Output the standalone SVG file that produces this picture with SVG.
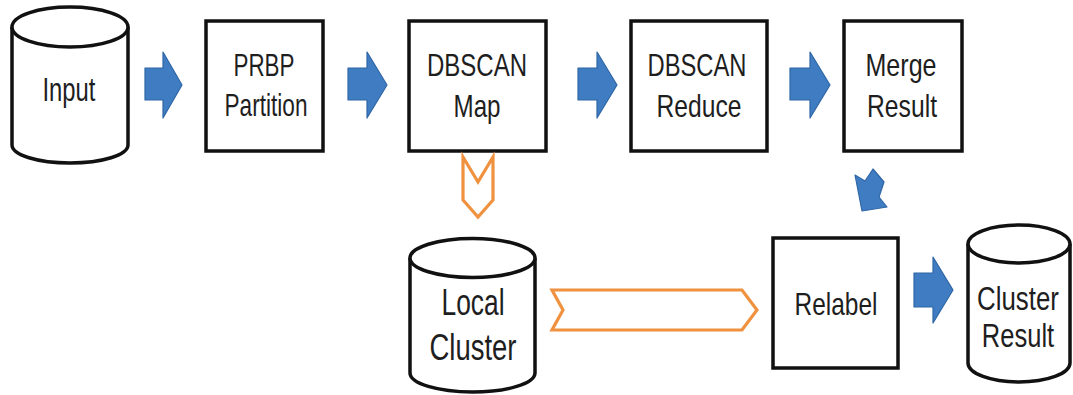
<svg xmlns="http://www.w3.org/2000/svg" width="1073" height="395" viewBox="0 0 1073 395">
<style>
.box{fill:#fff;stroke:#111;stroke-width:3.5}
.cyl{fill:#fff;stroke:#111;stroke-width:3.5}
.t{font-family:"Liberation Sans",Arial,sans-serif;fill:#1e1e1e;text-anchor:middle}
.blue{fill:#3f7cc2;stroke:#2f66a6;stroke-width:1.2;stroke-linejoin:round}
.orange{fill:#fff;stroke:#f0913f;stroke-width:3.2;stroke-linejoin:miter}
</style>
<rect width="1073" height="395" fill="#fff"/>
<g id="input">
<path class="cyl" d="M12,27 V145 A58,18 0 0 0 128,145 V27"/>
<ellipse class="cyl" cx="70" cy="27" rx="58" ry="20"/>
<text class="t" x="69" y="101" font-size="33" textLength="53" lengthAdjust="spacingAndGlyphs">Input</text>
</g>
<g id="prbp">
<rect class="box" x="206" y="21" width="117" height="130"/>
<text class="t" x="264" y="76" font-size="32" textLength="61" lengthAdjust="spacingAndGlyphs">PRBP</text>
<text class="t" x="266" y="116" font-size="32" textLength="83" lengthAdjust="spacingAndGlyphs">Partition</text>
</g>
<g id="dbscan-map">
<rect class="box" x="409" y="21" width="137" height="130"/>
<text class="t" x="477" y="76" font-size="32" textLength="100" lengthAdjust="spacingAndGlyphs">DBSCAN</text>
<text class="t" x="477" y="117" font-size="32" textLength="47" lengthAdjust="spacingAndGlyphs">Map</text>
</g>
<g id="dbscan-reduce">
<rect class="box" x="631" y="21" width="136" height="130"/>
<text class="t" x="697" y="76" font-size="32" textLength="99" lengthAdjust="spacingAndGlyphs">DBSCAN</text>
<text class="t" x="699" y="117" font-size="32" textLength="85" lengthAdjust="spacingAndGlyphs">Reduce</text>
</g>
<g id="merge-result">
<rect class="box" x="844" y="21" width="118" height="130"/>
<text class="t" x="901" y="76" font-size="32" textLength="71" lengthAdjust="spacingAndGlyphs">Merge</text>
<text class="t" x="902" y="117" font-size="32" textLength="70" lengthAdjust="spacingAndGlyphs">Result</text>
</g>
<g id="local-cluster">
<path class="cyl" d="M410,258 V373 A62.5,19 0 0 0 535,373 V258"/>
<ellipse class="cyl" cx="472.5" cy="258" rx="62.5" ry="19.5"/>
<text class="t" x="473" y="315" font-size="36" textLength="63" lengthAdjust="spacingAndGlyphs">Local</text>
<text class="t" x="473" y="360" font-size="36" textLength="87" lengthAdjust="spacingAndGlyphs">Cluster</text>
</g>
<g id="relabel">
<rect class="box" x="773" y="238" width="125" height="130"/>
<text class="t" x="836" y="315" font-size="32" textLength="83" lengthAdjust="spacingAndGlyphs">Relabel</text>
</g>
<g id="cluster-result">
<path class="cyl" d="M968,244 V363 A51,19 0 0 0 1070,363 V244"/>
<ellipse class="cyl" cx="1019" cy="244" rx="51" ry="19"/>
<text class="t" transform="translate(1018,310) scale(0.76,1)" font-size="34">Cluster</text>
<text class="t" transform="translate(1018,347) scale(0.75,1)" font-size="34">Result</text>
</g>
<g id="connectors">
<polygon class="blue" points="145,68 163,68 163,52 182,85 163,118 163,100 145,100"/>
<polygon class="blue" points="348,68 367,68 367,52 387,85 367,118 367,100 348,100"/>
<polygon class="blue" points="578,68 597,68 597,52 617,85 597,118 597,100 578,100"/>
<polygon class="blue" points="790,68 810,68 810,52 830,85 810,118 810,100 790,100"/>
<polygon class="blue" points="914,273 933,273 933,257 953,290 933,323 933,307 914,307"/>
<polygon class="blue" points="855,175 865,181 873,169 884,182 879,197 887,207 862,211"/>
<polygon class="orange" points="463,157 478,182 493,157 493,200 478,217 463,200"/>
<polygon class="orange" points="552,290 742,290 757,310 742,330 552,330 563,310"/>
</g>
</svg>
